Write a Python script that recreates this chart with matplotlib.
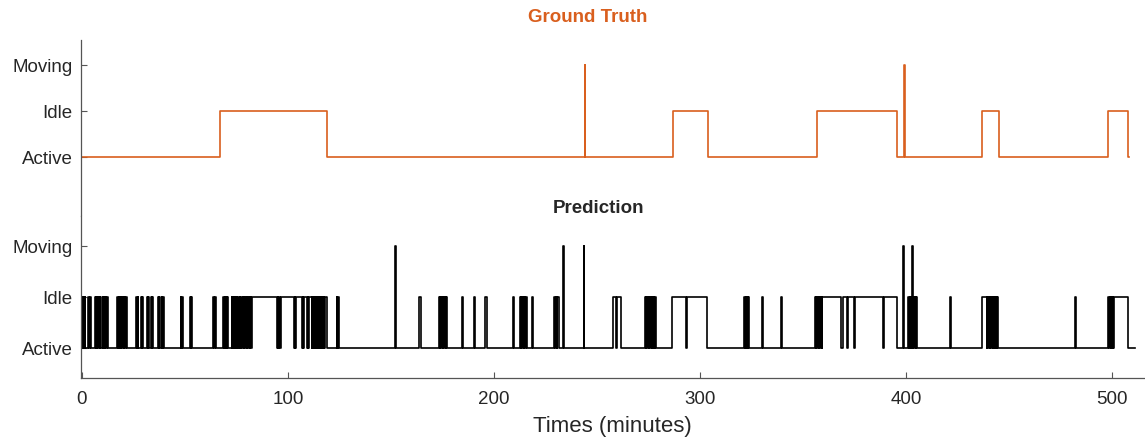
import numpy as np
import matplotlib.pyplot as plt

# states: 0 = Active, 1 = Idle, 2 = Moving
state_labels = ["Active", "Idle", "Moving"]
x_ticks = [0, 100, 200, 300, 400, 500]

# ground truth: time (minutes) at which each state begins
gt_times = [0, 67, 119, 244, 244.4, 287, 304, 357, 395.5, 399, 399.4, 437, 445, 498, 507.8, 508]
gt_states = [0, 1, 0, 2, 0, 1, 0, 1, 0, 2, 0, 1, 0, 1, 0, 0]

# prediction: Idle and Moving stretches, Active elsewhere
idle_start = [0.0, 0.7, 1.4, 3.0, 3.7,
              6.2, 6.9, 7.5, 8.3, 9.0, 10.0, 10.7, 11.4, 12.0,
              17.1, 17.8, 18.4, 19.1, 19.8, 20.5, 21.3,
              26.4, 27.0, 28.6, 29.2, 31.7, 32.2, 33.6, 34.1, 36.9, 37.5, 38.8, 39.4,
              47.9, 48.7, 52.3, 53.0, 63.6, 64.5,
              68.6, 69.2, 69.9, 70.5,
              72.7, 73.3, 73.9, 74.6, 75.2, 75.9, 76.5, 77.1,
              78.3, 78.9, 79.6, 80.2, 81.1, 81.8, 82.5,
              95.0, 95.8, 96.5, 103.2, 103.9, 107.1, 107.8, 109.5, 110.2, 111.9, 112.5,
              113.1, 113.7, 114.3, 114.9, 115.5, 116.1, 116.7, 117.3, 117.9,
              123.6, 124.4, 163.8,
              173.3, 174.0, 174.7, 175.4, 176.1, 176.8,
              184.5, 190.2, 195.7, 209.3,
              212.6, 213.3, 214.0, 214.7, 215.4, 218.6,
              229.3, 230.0, 230.8, 258.0, 259.8,
              273.3, 274.0, 274.7, 275.4, 276.1, 276.8, 277.5, 278.2,
              286.3, 293.9, 321.4, 322.1, 322.8, 323.5, 330.2, 339.1,
              355.8, 356.5, 357.2, 357.9, 358.6, 359.3, 369.3, 372.0, 375.4, 389.2,
              401.0, 401.7, 402.4, 403.6, 404.3, 404.9, 421.3,
              436.7, 439.5, 440.2, 440.9, 441.6, 442.3, 443.0, 443.7, 444.4,
              481.8, 498.2, 498.9, 499.6, 500.3, 501.0]
idle_end = [0.4, 1.1, 1.7, 3.4, 4.5,
            6.6, 7.2, 7.8, 8.7, 9.4, 10.4, 11.1, 11.7, 12.6,
            17.5, 18.1, 18.8, 19.5, 20.2, 20.9, 22.0,
            26.8, 27.4, 29.0, 29.6, 32.0, 32.4, 33.9, 34.5, 37.2, 37.8, 39.1, 39.8,
            48.3, 49.2, 52.7, 53.5, 64.1, 65.2,
            68.9, 69.6, 70.2, 71.0,
            73.0, 73.6, 74.2, 74.9, 75.5, 76.2, 76.8, 77.5,
            78.6, 79.3, 79.9, 80.7, 81.4, 82.1, 94.5,
            95.4, 96.1, 102.8, 103.5, 106.7, 107.4, 109.1, 109.8, 111.6, 112.2, 112.8,
            113.4, 114.0, 114.6, 115.2, 115.8, 116.4, 117.0, 117.6, 118.8,
            124.0, 125.0, 164.4,
            173.7, 174.4, 175.1, 175.8, 176.5, 177.2,
            185.1, 190.8, 196.5, 209.9,
            213.0, 213.7, 214.4, 215.1, 215.9, 219.1,
            229.7, 230.4, 231.4, 259.4, 261.7,
            273.7, 274.4, 275.1, 275.8, 276.5, 277.2, 277.9, 278.6,
            293.3, 303.6, 321.8, 322.5, 323.2, 324.0, 330.7, 339.6,
            356.2, 356.9, 357.6, 358.3, 359.0, 368.6, 371.4, 374.8, 388.6, 395.5,
            401.4, 402.1, 402.9, 404.0, 404.7, 405.2, 421.7,
            439.2, 439.9, 440.6, 441.3, 442.0, 442.7, 443.4, 444.1, 444.8,
            482.3, 498.6, 499.3, 500.0, 500.7, 507.9]
moving_start = [152.1, 233.6, 243.6, 398.6, 403.1]
moving_end = [152.5, 233.9, 243.9, 398.9, 403.4]
pred_last = 511

# step vertices for the prediction
segs = sorted([(s, e, 1) for s, e in zip(idle_start, idle_end)] +
              [(s, e, 2) for s, e in zip(moving_start, moving_end)])
px, py = [0.0], [0]
for s, e, v in segs:
    px += [s, s, e, e]
    py += [py[-1], v, v, 0]
px.append(pred_last)
py.append(0)

orange = "#D95F1E"
dark = "#262626"
plt.rcParams["font.family"] = ["Liberation Sans", "DejaVu Sans"]

fig = plt.figure(figsize=(11.45, 4.44), dpi=100)
H = 444.0
ax1 = fig.add_axes([80.7 / 1145, (H - 216) / H, 1 - 80.7 / 1145, (216 - 40) / H])
ax2 = fig.add_axes([80.7 / 1145, (H - 378) / H, 1 - 80.7 / 1145, (378 - 216) / H])

ax1.step(gt_times, gt_states, where="post", color=orange, lw=1.2)
ax2.plot(px, py, color="black", lw=1.2)

for ax in (ax1, ax2):
    ax.set_xlim(-0.6, 516)
    ax.set_yticks([0, 1, 2])
    ax.set_yticklabels(state_labels)
    ax.spines["top"].set_visible(False)
    ax.spines["right"].set_visible(False)
    ax.spines["left"].set_color("#555555")
    ax.spines["bottom"].set_color("#555555")
    ax.spines["left"].set_linewidth(0.9)
    ax.spines["bottom"].set_linewidth(0.9)
    ax.tick_params(direction="in", length=4, color="#555555", labelsize=13.5,
                   labelcolor=dark, pad=6)

ax1.set_ylim(-(216 - 157) / 46, 2 + (65 - 40) / 46)
ax1.spines["bottom"].set_visible(False)
ax1.set_xticks([])

ax2.set_ylim(-(378 - 348) / 51, 2 + (246 - 216) / 51)
ax2.set_xticks(x_ticks)
ax2.tick_params(axis="x", pad=9)
ax2.set_xlabel("Times (minutes)", fontsize=16, color=dark, labelpad=6)

fig.text(588 / 1145, 1 - 18 / H, "Ground Truth", color=orange, fontsize=13.5,
         fontweight="bold", ha="center", va="center")
fig.text(598 / 1145, 1 - 208 / H, "Prediction", color=dark, fontsize=13.5,
         fontweight="bold", ha="center", va="center")

fig.savefig("out.png", dpi=100)
